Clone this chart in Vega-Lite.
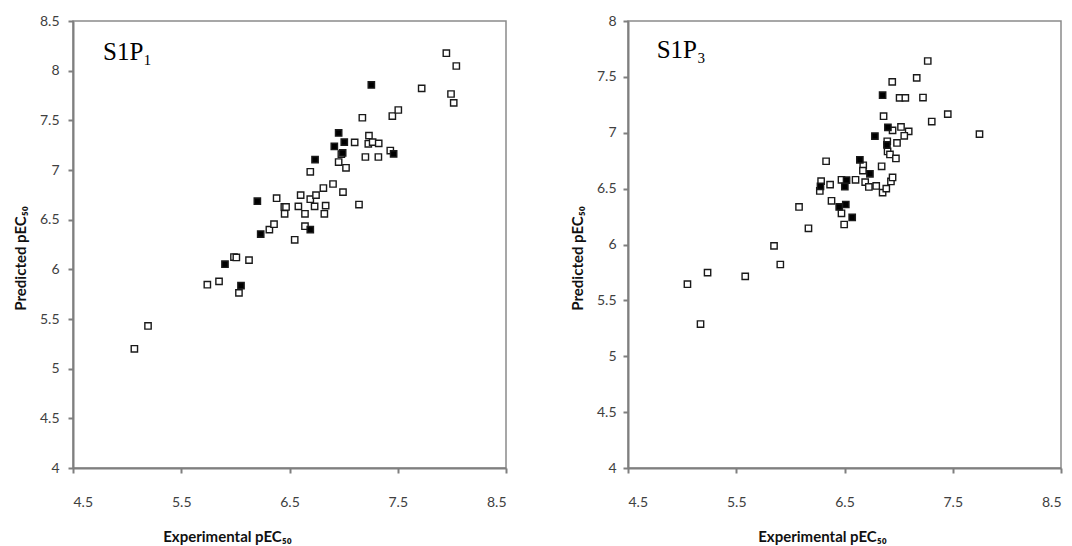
{
  "$schema": "https://vega.github.io/schema/vega-lite/v6.json",
  "background": "white",
  "padding": {"left": 12, "top": 13, "right": 4, "bottom": 4},
  "spacing": 122,
  "bounds": "flush",
  "config": {
    "view": {"stroke": "#8a8a8a", "strokeWidth": 1.5},
    "axis": {
      "grid": false,
      "domainColor": "#7f7f7f",
      "domainWidth": 2,
      "tickColor": "#7f7f7f",
      "tickWidth": 2,
      "tickSize": 5,
      "labelColor": "#404040",
      "labelFont": "Lato",
      "labelFontSize": 14,
      "titleFont": "Lato",
      "titleFontSize": 15,
      "titleFontWeight": "bold",
      "titleColor": "#111111"
    }
  },
  "datasets": {
    "p1": [
      {"x": 5.067, "y": 5.20, "set": "train"},
      {"x": 5.193, "y": 5.43, "set": "train"},
      {"x": 5.741, "y": 5.845, "set": "train"},
      {"x": 5.849, "y": 5.879, "set": "train"},
      {"x": 5.987, "y": 6.124, "set": "train"},
      {"x": 6.009, "y": 6.12, "set": "train"},
      {"x": 6.126, "y": 6.093, "set": "train"},
      {"x": 6.033, "y": 5.763, "set": "train"},
      {"x": 6.314, "y": 6.40, "set": "train"},
      {"x": 6.357, "y": 6.454, "set": "train"},
      {"x": 6.381, "y": 6.716, "set": "train"},
      {"x": 6.452, "y": 6.628, "set": "train"},
      {"x": 6.468, "y": 6.628, "set": "train"},
      {"x": 6.455, "y": 6.559, "set": "train"},
      {"x": 6.548, "y": 6.297, "set": "train"},
      {"x": 6.603, "y": 6.747, "set": "train"},
      {"x": 6.582, "y": 6.634, "set": "train"},
      {"x": 6.643, "y": 6.559, "set": "train"},
      {"x": 6.643, "y": 6.434, "set": "train"},
      {"x": 6.692, "y": 6.982, "set": "train"},
      {"x": 6.692, "y": 6.706, "set": "train"},
      {"x": 6.732, "y": 6.634, "set": "train"},
      {"x": 6.745, "y": 6.747, "set": "train"},
      {"x": 6.813, "y": 6.818, "set": "train"},
      {"x": 6.834, "y": 6.641, "set": "train"},
      {"x": 6.822, "y": 6.559, "set": "train"},
      {"x": 6.902, "y": 6.859, "set": "train"},
      {"x": 6.994, "y": 6.777, "set": "train"},
      {"x": 6.954, "y": 7.080, "set": "train"},
      {"x": 6.979, "y": 7.159, "set": "train"},
      {"x": 7.022, "y": 7.022, "set": "train"},
      {"x": 7.142, "y": 6.652, "set": "train"},
      {"x": 7.102, "y": 7.278, "set": "train"},
      {"x": 7.173, "y": 7.526, "set": "train"},
      {"x": 7.201, "y": 7.131, "set": "train"},
      {"x": 7.234, "y": 7.346, "set": "train"},
      {"x": 7.228, "y": 7.264, "set": "train"},
      {"x": 7.268, "y": 7.281, "set": "train"},
      {"x": 7.324, "y": 7.268, "set": "train"},
      {"x": 7.321, "y": 7.131, "set": "train"},
      {"x": 7.431, "y": 7.196, "set": "train"},
      {"x": 7.450, "y": 7.543, "set": "train"},
      {"x": 7.505, "y": 7.604, "set": "train"},
      {"x": 7.721, "y": 7.822, "set": "train"},
      {"x": 7.949, "y": 8.176, "set": "train"},
      {"x": 8.041, "y": 8.047, "set": "train"},
      {"x": 7.992, "y": 7.765, "set": "train"},
      {"x": 8.017, "y": 7.676, "set": "train"},
      {"x": 5.904, "y": 6.052, "set": "test"},
      {"x": 6.052, "y": 5.835, "set": "test"},
      {"x": 6.203, "y": 6.686, "set": "test"},
      {"x": 6.234, "y": 6.355, "set": "test"},
      {"x": 6.692, "y": 6.40, "set": "test"},
      {"x": 6.736, "y": 7.104, "set": "test"},
      {"x": 6.914, "y": 7.237, "set": "test"},
      {"x": 6.954, "y": 7.373, "set": "test"},
      {"x": 7.006, "y": 7.281, "set": "test"},
      {"x": 6.991, "y": 7.172, "set": "test"},
      {"x": 7.256, "y": 7.856, "set": "test"},
      {"x": 7.462, "y": 7.162, "set": "test"}
    ],
    "p3": [
      {"x": 5.049, "y": 5.645, "set": "train"},
      {"x": 5.170, "y": 5.288, "set": "train"},
      {"x": 5.235, "y": 5.748, "set": "train"},
      {"x": 5.583, "y": 5.715, "set": "train"},
      {"x": 5.849, "y": 5.988, "set": "train"},
      {"x": 5.907, "y": 5.821, "set": "train"},
      {"x": 6.080, "y": 6.336, "set": "train"},
      {"x": 6.167, "y": 6.145, "set": "train"},
      {"x": 6.330, "y": 6.745, "set": "train"},
      {"x": 6.284, "y": 6.567, "set": "train"},
      {"x": 6.272, "y": 6.479, "set": "train"},
      {"x": 6.367, "y": 6.536, "set": "train"},
      {"x": 6.380, "y": 6.391, "set": "train"},
      {"x": 6.472, "y": 6.579, "set": "train"},
      {"x": 6.472, "y": 6.279, "set": "train"},
      {"x": 6.497, "y": 6.179, "set": "train"},
      {"x": 6.602, "y": 6.579, "set": "train"},
      {"x": 6.673, "y": 6.709, "set": "train"},
      {"x": 6.670, "y": 6.661, "set": "train"},
      {"x": 6.691, "y": 6.558, "set": "train"},
      {"x": 6.725, "y": 6.515, "set": "train"},
      {"x": 6.793, "y": 6.524, "set": "train"},
      {"x": 6.843, "y": 6.700, "set": "train"},
      {"x": 6.852, "y": 6.464, "set": "train"},
      {"x": 6.886, "y": 6.500, "set": "train"},
      {"x": 6.929, "y": 6.564, "set": "train"},
      {"x": 6.944, "y": 6.600, "set": "train"},
      {"x": 6.861, "y": 7.148, "set": "train"},
      {"x": 6.941, "y": 7.455, "set": "train"},
      {"x": 7.009, "y": 7.312, "set": "train"},
      {"x": 7.062, "y": 7.312, "set": "train"},
      {"x": 7.167, "y": 7.491, "set": "train"},
      {"x": 7.225, "y": 7.315, "set": "train"},
      {"x": 7.269, "y": 7.642, "set": "train"},
      {"x": 7.454, "y": 7.167, "set": "train"},
      {"x": 7.306, "y": 7.100, "set": "train"},
      {"x": 7.747, "y": 6.988, "set": "train"},
      {"x": 6.944, "y": 7.021, "set": "train"},
      {"x": 7.022, "y": 7.052, "set": "train"},
      {"x": 7.093, "y": 7.012, "set": "train"},
      {"x": 7.052, "y": 6.973, "set": "train"},
      {"x": 6.985, "y": 6.909, "set": "train"},
      {"x": 6.895, "y": 6.924, "set": "train"},
      {"x": 6.898, "y": 6.833, "set": "train"},
      {"x": 6.920, "y": 6.806, "set": "train"},
      {"x": 6.975, "y": 6.770, "set": "train"},
      {"x": 6.852, "y": 7.336, "set": "test"},
      {"x": 6.901, "y": 7.048, "set": "test"},
      {"x": 6.781, "y": 6.970, "set": "test"},
      {"x": 6.892, "y": 6.891, "set": "test"},
      {"x": 6.642, "y": 6.758, "set": "test"},
      {"x": 6.735, "y": 6.633, "set": "test"},
      {"x": 6.519, "y": 6.576, "set": "test"},
      {"x": 6.503, "y": 6.518, "set": "test"},
      {"x": 6.278, "y": 6.521, "set": "test"},
      {"x": 6.451, "y": 6.336, "set": "test"},
      {"x": 6.512, "y": 6.358, "set": "test"},
      {"x": 6.571, "y": 6.242, "set": "test"}
    ],
    "lab1": [{"x": 4.777, "y": 8.11, "label": "S1P₁"}],
    "lab3": [{"x": 4.765, "y": 7.67, "label": "S1P₃"}]
  },
  "hconcat": [
    {
      "width": 433,
      "height": 447,
      "layer": [
        {
          "data": {"name": "p1"},
          "mark": {"type": "point", "shape": "square", "filled": true, "size": 40, "stroke": "#1a1a1a", "strokeWidth": 1.4, "opacity": 1},
          "encoding": {
            "x": {"field": "x", "type": "quantitative", "scale": {"domain": [4.5, 8.5], "nice": false, "zero": false},
              "axis": {"values": [4.5, 5.5, 6.5, 7.5, 8.5], "format": "~g", "labelPadding": 22, "title": "Experimental pEC₅₀", "titleX": 154, "titleY": 68, "titleAlign": "center", "titleBaseline": "middle"}},
            "y": {"field": "y", "type": "quantitative", "scale": {"domain": [4, 8.5], "nice": false, "zero": false},
              "axis": {"values": [4, 4.5, 5, 5.5, 6, 6.5, 7, 7.5, 8, 8.5], "format": "~g", "labelPadding": 9, "title": "Predicted pEC₅₀", "titleX": -53, "titleY": 237, "titleAlign": "center", "titleBaseline": "middle"}},
            "fill": {"field": "set", "type": "nominal", "scale": {"domain": ["train", "test"], "range": ["white", "black"]}, "legend": null}
          }
        },
        {
          "data": {"name": "lab1"},
          "mark": {"type": "text", "font": "Liberation Serif", "fontSize": 25, "align": "left", "baseline": "alphabetic", "color": "black"},
          "encoding": {
            "x": {"field": "x", "type": "quantitative"},
            "y": {"field": "y", "type": "quantitative"},
            "text": {"field": "label"}
          }
        }
      ]
    },
    {
      "width": 433,
      "height": 447,
      "layer": [
        {
          "data": {"name": "p3"},
          "mark": {"type": "point", "shape": "square", "filled": true, "size": 40, "stroke": "#1a1a1a", "strokeWidth": 1.4, "opacity": 1},
          "encoding": {
            "x": {"field": "x", "type": "quantitative", "scale": {"domain": [4.5, 8.5], "nice": false, "zero": false},
              "axis": {"values": [4.5, 5.5, 6.5, 7.5, 8.5], "format": "~g", "labelPadding": 22, "title": "Experimental pEC₅₀", "titleX": 194, "titleY": 68, "titleAlign": "center", "titleBaseline": "middle"}},
            "y": {"field": "y", "type": "quantitative", "scale": {"domain": [4, 8], "nice": false, "zero": false},
              "axis": {"values": [4, 4.5, 5, 5.5, 6, 6.5, 7, 7.5, 8], "format": "~g", "labelPadding": 7, "title": "Predicted pEC₅₀", "titleX": -51, "titleY": 237, "titleAlign": "center", "titleBaseline": "middle"}},
            "fill": {"field": "set", "type": "nominal", "scale": {"domain": ["train", "test"], "range": ["white", "black"]}, "legend": null}
          }
        },
        {
          "data": {"name": "lab3"},
          "mark": {"type": "text", "font": "Liberation Serif", "fontSize": 25, "align": "left", "baseline": "alphabetic", "color": "black"},
          "encoding": {
            "x": {"field": "x", "type": "quantitative"},
            "y": {"field": "y", "type": "quantitative"},
            "text": {"field": "label"}
          }
        }
      ]
    }
  ]
}
